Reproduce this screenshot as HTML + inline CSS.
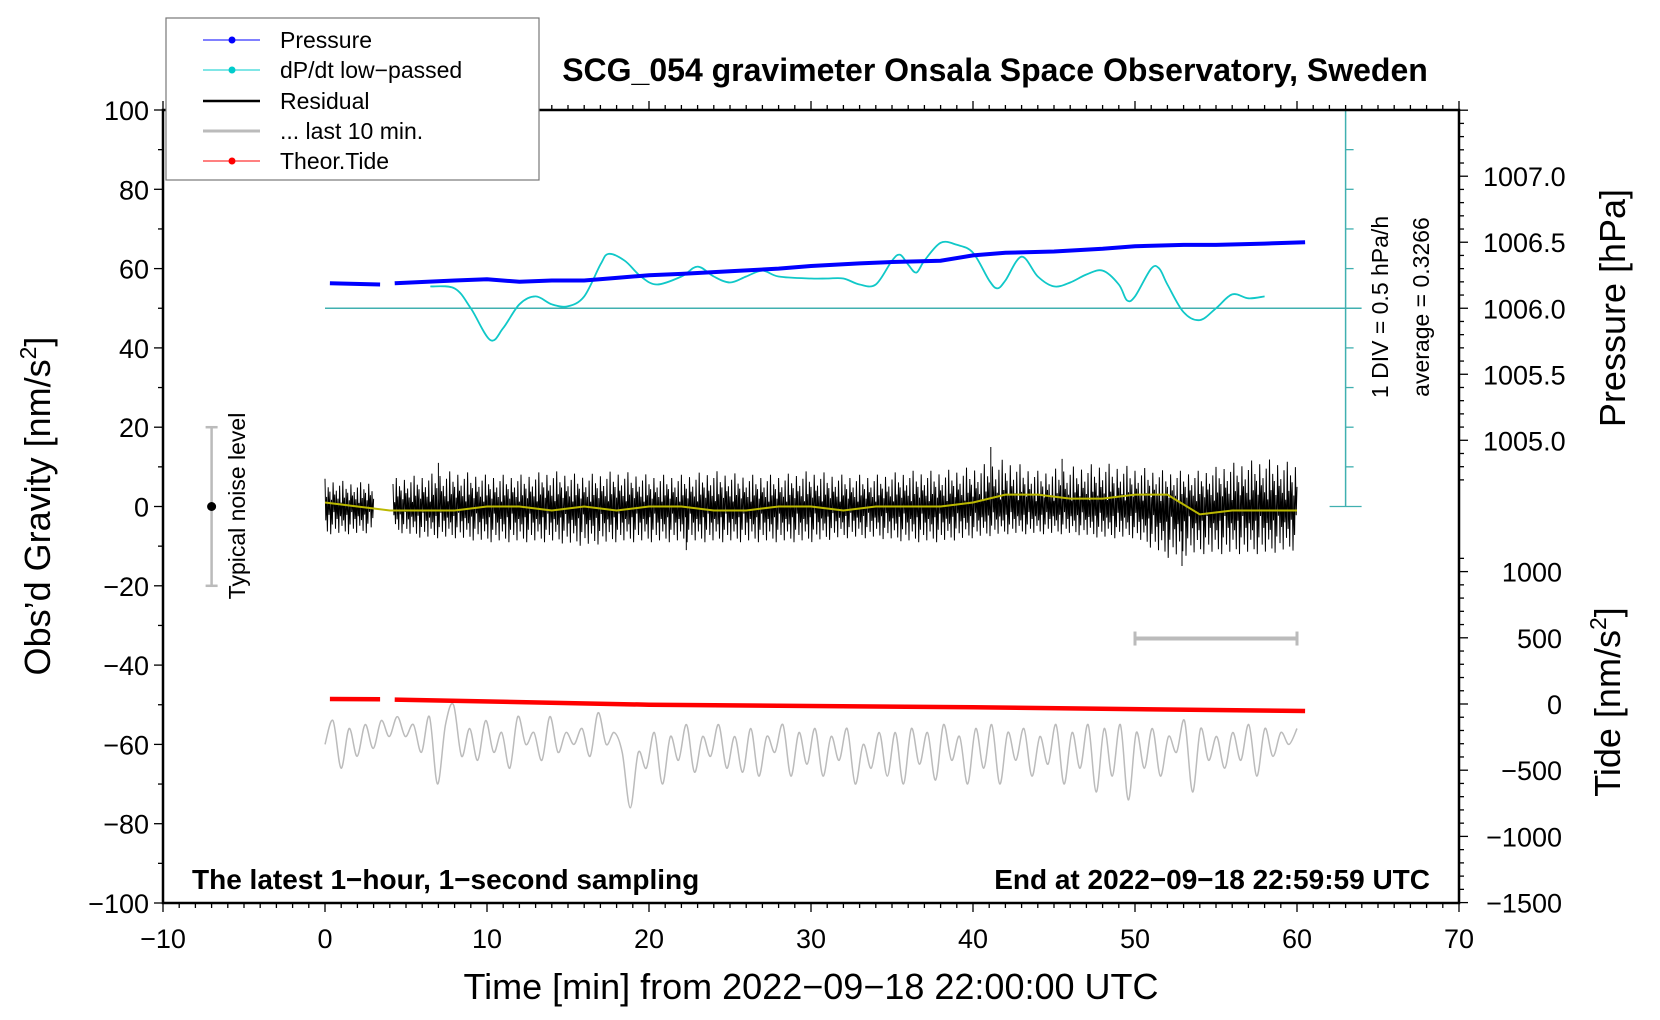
<!DOCTYPE html>
<html><head><meta charset="utf-8"><style>
html,body{margin:0;padding:0;background:#fff;}
svg{display:block;font-family:"Liberation Sans",sans-serif;}
</style></head><body>
<svg id="chart" width="1660" height="1020" viewBox="0 0 1660 1020" xmlns="http://www.w3.org/2000/svg">
<rect width="1660" height="1020" fill="#fff"/>
<g id="plot"></g>
<rect x="163" y="110" width="1296" height="793" fill="none" stroke="#000" stroke-width="2.5"/>
<g id="axes"></g>
<text x="995" y="81" text-anchor="middle" font-size="32" font-weight="bold">SCG_054 gravimeter Onsala Space Observatory, Sweden</text>
<text x="811" y="999" text-anchor="middle" font-size="36">Time [min] from 2022−09−18 22:00:00 UTC</text>
<text transform="translate(50,506) rotate(-90)" text-anchor="middle" font-size="36">Obs’d Gravity [nm/s<tspan font-size="23" dy="-14">2</tspan><tspan dy="14">]</tspan></text>
<text transform="translate(1625,308) rotate(-90)" text-anchor="middle" font-size="36">Pressure [hPa]</text>
<text transform="translate(1620,702) rotate(-90)" text-anchor="middle" font-size="36">Tide [nm/s<tspan font-size="23" dy="-14">2</tspan><tspan dy="14">]</tspan></text>
<text transform="translate(1388,307) rotate(-90)" text-anchor="middle" font-size="23">1 DIV = 0.5 hPa/h</text>
<text transform="translate(1429,307) rotate(-90)" text-anchor="middle" font-size="23">average = 0.3266</text>
<text transform="translate(245,506) rotate(-90)" text-anchor="middle" font-size="23">Typical noise level</text>
<text x="192" y="889" font-size="28" font-weight="bold">The latest 1−hour, 1−second sampling</text>
<text x="1430" y="889" text-anchor="end" font-size="28" font-weight="bold">End at 2022−09−18 22:59:59 UTC</text>
<g>
<rect x="166" y="18" width="373" height="162" fill="#fff" stroke="#777" stroke-width="1.2"/>
<g><line x1="203" y1="40" x2="260" y2="40" stroke="#00f" stroke-width="1"/><circle cx="232" cy="40" r="3.5" fill="#00f"/><text x="280" y="48" font-size="23">Pressure</text></g>
<g><line x1="203" y1="70" x2="260" y2="70" stroke="#0cc" stroke-width="1"/><circle cx="232" cy="70" r="3.5" fill="#0cc"/><text x="280" y="78" font-size="23">dP/dt low−passed</text></g>
<g><line x1="203" y1="101" x2="260" y2="101" stroke="#000" stroke-width="2.5"/><text x="280" y="109" font-size="23">Residual</text></g>
<g><line x1="203" y1="131" x2="260" y2="131" stroke="#bbb" stroke-width="3"/><text x="280" y="139" font-size="23">... last 10 min.</text></g>
<g><line x1="203" y1="161" x2="260" y2="161" stroke="#f00" stroke-width="1"/><circle cx="232" cy="161" r="3.5" fill="#f00"/><text x="280" y="169" font-size="23">Theor.Tide</text></g>
</g>
</svg>
<script>
// ---- data ----
const xTicks = [-10,0,10,20,30,40,50,60,70];
const yTicks = [100,80,60,40,20,0,-20,-40,-60,-80,-100];
const pTicks = [1007.0,1006.5,1006.0,1005.5,1005.0];
const tideTicks = [1000,500,0,-500,-1000,-1500];
const presT = [0.3,3.4,null,4.3,8,10,12,14,16,18,20,22,25,28,30,33,35,38,40,42,45,48,50,53,55,58,60.5];
const presV = [1006.19,1006.18,null,1006.19,1006.21,1006.22,1006.20,1006.21,1006.21,1006.23,1006.25,1006.26,1006.28,1006.30,1006.32,1006.34,1006.35,1006.36,1006.40,1006.42,1006.43,1006.45,1006.47,1006.48,1006.48,1006.49,1006.50];
const dpT = [6.5,8,9,10.2,11,12,13,14,15,16,17,17.5,18.5,19.5,20.5,22,23,24,25,26,27,28,30,31,32,33,34,35,35.5,36,36.5,37,38,39,40,41,41.5,42,43,44,45,46,47,48,49,49.5,50,51,51.5,52,53,54,55,56,57,58];
const dpV = [55.5,55,50,42,45,51,53,51,50.5,53,61,63.7,62,58,56,58,60.5,58,56.5,58,59.5,58,57.5,57.5,57.5,56,56,62,63.5,61,59,62,66.5,66,64,57,55,57,63,58,55.5,56.5,58.5,59.5,56,52,53,60,60,56,49,47,50,53.5,52.5,53];
const resUpper = [7,6,7,8,9,8,8,9,8,9,8,8,9,8,8,9,8,8,9,9,10,12,9,10,11,10,9,9,11,12,11];
const resLower = [-7,-7,-6,-8,-8,-9,-9,-9,-10,-9,-9,-9,-9,-9,-9,-9,-8,-8,-9,-9,-8,-7,-7,-7,-8,-8,-13,-12,-12,-12,-11];
const spikeT = [7.0,22.3,41.1,45.5,52.9];
const spikeV = [11,-11,15,12,-15];
const smoothV = [1,0,-1,-1,-1,0,0,-1,0,-1,0,0,-1,-1,0,0,-1,0,0,0,1,3,3,2,2,3,3,-2,-1,-1,-1];
const grayV = [-60,-54,-66,-56,-63,-55,-61,-54,-58,-53,-58,-55,-62,-53,-70,-55,-50,-63,-56,-64,-54,-62,-57,-66,-53,-60,-57,-64,-53,-62,-57,-60,-56,-63,-52,-60,-57,-62,-76,-62,-66,-57,-70,-58,-64,-55,-67,-58,-63,-55,-66,-58,-67,-56,-68,-58,-62,-55,-68,-57,-65,-56,-68,-58,-64,-56,-70,-60,-66,-57,-68,-57,-70,-56,-65,-57,-69,-55,-64,-58,-70,-56,-66,-55,-70,-57,-64,-56,-68,-58,-65,-55,-70,-57,-66,-55,-72,-56,-68,-55,-74,-57,-66,-56,-68,-58,-62,-54,-72,-56,-64,-58,-66,-57,-64,-55,-68,-56,-63,-57,-60,-56];
const tideT = [0.3,3.4,null,4.3,20,40,60.5];
const tideV = [38,36,null,33,-5,-25,-53];

// ---- scales ----
const X0=163,X1=1459,Y0=110,Y1=903;
const sx = t => X0 + (t+10)/80*(X1-X0);
const sy = g => Y0 + (100-g)/200*(Y1-Y0);
const sp = p => sy(50 + (p-1006)*33.3);
const st = v => 704 - v/500*66.2;
const NS="http://www.w3.org/2000/svg";
const plot=document.getElementById('plot'), axes=document.getElementById('axes');
function mk(tag,attrs,parent){const e=document.createElementNS(NS,tag);for(const k in attrs)e.setAttribute(k,attrs[k]);parent.appendChild(e);return e;}
function pathFrom(ts,vs,fx,fy){let d='',pen=false;for(let i=0;i<ts.length;i++){if(ts[i]===null||vs[i]===null){pen=false;continue;}d+=(pen?'L':'M')+fx(ts[i]).toFixed(1)+' '+fy(vs[i]).toFixed(1);pen=true;}return d;}
function smoothPath(ts,vs,fx,fy){const P=ts.map((t,i)=>[fx(t),fy(vs[i])]);let d='M'+P[0][0].toFixed(1)+' '+P[0][1].toFixed(1);
 for(let i=0;i<P.length-1;i++){const p0=P[Math.max(0,i-1)],p1=P[i],p2=P[i+1],p3=P[Math.min(P.length-1,i+2)];
 const c1=[p1[0]+(p2[0]-p0[0])/6,p1[1]+(p2[1]-p0[1])/6],c2=[p2[0]-(p3[0]-p1[0])/6,p2[1]-(p3[1]-p1[1])/6];
 d+='C'+c1[0].toFixed(1)+' '+c1[1].toFixed(1)+' '+c2[0].toFixed(1)+' '+c2[1].toFixed(1)+' '+p2[0].toFixed(1)+' '+p2[1].toFixed(1);}return d;}

// axes ticks
for(let t=-10;t<=70;t++){const maj=t%10===0;const x=sx(t);
 const a=mk('line',{x1:x,y1:Y1,x2:x,y2:Y1+(maj?9:5),stroke:'#000','stroke-width':1.3},axes);
 
 const b=mk('line',{x1:x,y1:Y0,x2:x,y2:Y0-(maj?9:5),stroke:'#000','stroke-width':1.3},axes);
 }
xTicks.forEach(t=>{const e=mk('text',{x:sx(t),y:948,'text-anchor':'middle','font-size':27},axes);e.textContent=(t<0?'−':'')+Math.abs(t);
 });
for(let g=-100;g<=100;g+=10){const y=sy(g);const maj=g%20===0;
 const e=mk('line',{x1:X0,y1:y,x2:X0-(maj?9:5),y2:y,stroke:'#000','stroke-width':1.3},axes);
 }
yTicks.forEach(g=>{const e=mk('text',{x:X0-14,y:sy(g)+10,'text-anchor':'end','font-size':27},axes);e.textContent=(g<0?'−':'')+Math.abs(g);
 });
for(let p=1004.4;p<=1007.6;p+=0.1){const y=sp(p);if(y<Y0||y>sy(5))continue;const maj=Math.abs(p*2-Math.round(p*2))<0.01;
 const e=mk('line',{x1:X1,y1:y,x2:X1+(maj?9:5),y2:y,stroke:'#000','stroke-width':1.3},axes);
 }
pTicks.forEach(p=>{const e=mk('text',{x:1483,y:sp(p)+10,'font-size':27},axes);e.textContent=p.toFixed(1);
 });
for(let v=-1500;v<=1100;v+=100){const y=st(v);if(y<sy(-10)||y>Y1)continue;const maj=v%500===0;
 const e=mk('line',{x1:X1,y1:y,x2:X1+(maj?9:5),y2:y,stroke:'#000','stroke-width':1.3},axes);
 }
tideTicks.forEach(v=>{const e=mk('text',{x:1562,y:st(v)+10,'text-anchor':'end','font-size':27},axes);e.textContent=(v<0?'−':'')+Math.abs(v);
 });

// dP/dt scale bar
const sb=mk('g',{},plot);


mk('line',{x1:sx(63),y1:sy(100),x2:sx(63),y2:sy(0),stroke:'#40b0b0','stroke-width':1.5},sb);
for(let g=0;g<=100;g+=10){const w=(g===0||g===100)?16:8;mk('line',{x1:sx(63)-(g%100===0?16:0),y1:sy(g),x2:sx(63)+w,y2:sy(g),stroke:'#40b0b0','stroke-width':1.3},sb);}
const zl=mk('line',{x1:sx(0),y1:sy(50),x2:sx(63)+16,y2:sy(50),stroke:'#40b0b0','stroke-width':1.5},plot);



// gray last 10 min
const gstep=60/(grayV.length-1);
const gp=mk('path',{d:smoothPath(grayV.map((v,i)=>i*gstep),grayV,sx,sy),fill:'none',stroke:'#bbb','stroke-width':1.5},plot);



// residual band (zigzag between envelopes)
const pat=[1,-0.5,0.35,-0.9,0.7,-0.3,0.55,-1,0.25,-0.65,0.9,-0.2,0.45,-0.8,0.6,-0.45,0.3,-0.95,0.8,-0.35,0.15,-0.7];
let rd='',pen=false;
for(let k=0;k<=1200;k++){const t=k*0.05;const i=Math.min(Math.floor(t/2),resUpper.length-2);
 const fr=t/2-i;
 if(t>3.0&&t<4.2){pen=false;continue;}
 const u=resUpper[i]+(resUpper[i+1]-resUpper[i])*fr,l=resLower[i]+(resLower[i+1]-resLower[i])*fr;
 const f=pat[k%pat.length];const v=f>0?u*f:-l*f;
 rd+=(pen?'L':'M')+sx(t).toFixed(1)+' '+sy(v).toFixed(1);pen=true;}
spikeT.forEach((t,i)=>{rd+='M'+sx(t).toFixed(1)+' '+sy(0).toFixed(1)+'L'+sx(t).toFixed(1)+' '+sy(spikeV[i]).toFixed(1);});
const rp=mk('path',{d:rd,fill:'none',stroke:'#000','stroke-width':1},plot);


const smT=smoothV.map((v,i)=>i*2);
const sp2=mk('path',{d:pathFrom(smT,smoothV,sx,sy),fill:'none',stroke:'#bbb800','stroke-width':2},plot);



// dP/dt
const dp=mk('path',{d:smoothPath(dpT,dpV,sx,sy),fill:'none',stroke:'#10c8c8','stroke-width':1.8},plot);


// pressure
const pp=mk('path',{d:pathFrom(presT,presV,sx,sp),fill:'none',stroke:'#00f','stroke-width':4},plot);


// tide
const tp=mk('path',{d:pathFrom(tideT,tideV,sx,st),fill:'none',stroke:'#f00','stroke-width':4.5},plot);



// noise bar
const nb=mk('g',{},plot);


mk('line',{x1:sx(-7),y1:sy(20),x2:sx(-7),y2:sy(-20),stroke:'#bbb','stroke-width':2.5},nb);
mk('line',{x1:sx(-7)-6,y1:sy(20),x2:sx(-7)+6,y2:sy(20),stroke:'#bbb','stroke-width':2.5},nb);
mk('line',{x1:sx(-7)-6,y1:sy(-20),x2:sx(-7)+6,y2:sy(-20),stroke:'#bbb','stroke-width':2.5},nb);
mk('circle',{cx:sx(-7),cy:sy(0),r:4.5,fill:'#000'},nb);
// last 10 min span bar
const lb=mk('g',{},plot);


mk('line',{x1:sx(50),y1:sy(-33.3),x2:sx(60),y2:sy(-33.3),stroke:'#bbb','stroke-width':4},lb);
mk('line',{x1:sx(50),y1:sy(-33.3)-7,x2:sx(50),y2:sy(-33.3)+7,stroke:'#bbb','stroke-width':3},lb);
mk('line',{x1:sx(60),y1:sy(-33.3)-7,x2:sx(60),y2:sy(-33.3)+7,stroke:'#bbb','stroke-width':3},lb);
</script>
</body></html>
